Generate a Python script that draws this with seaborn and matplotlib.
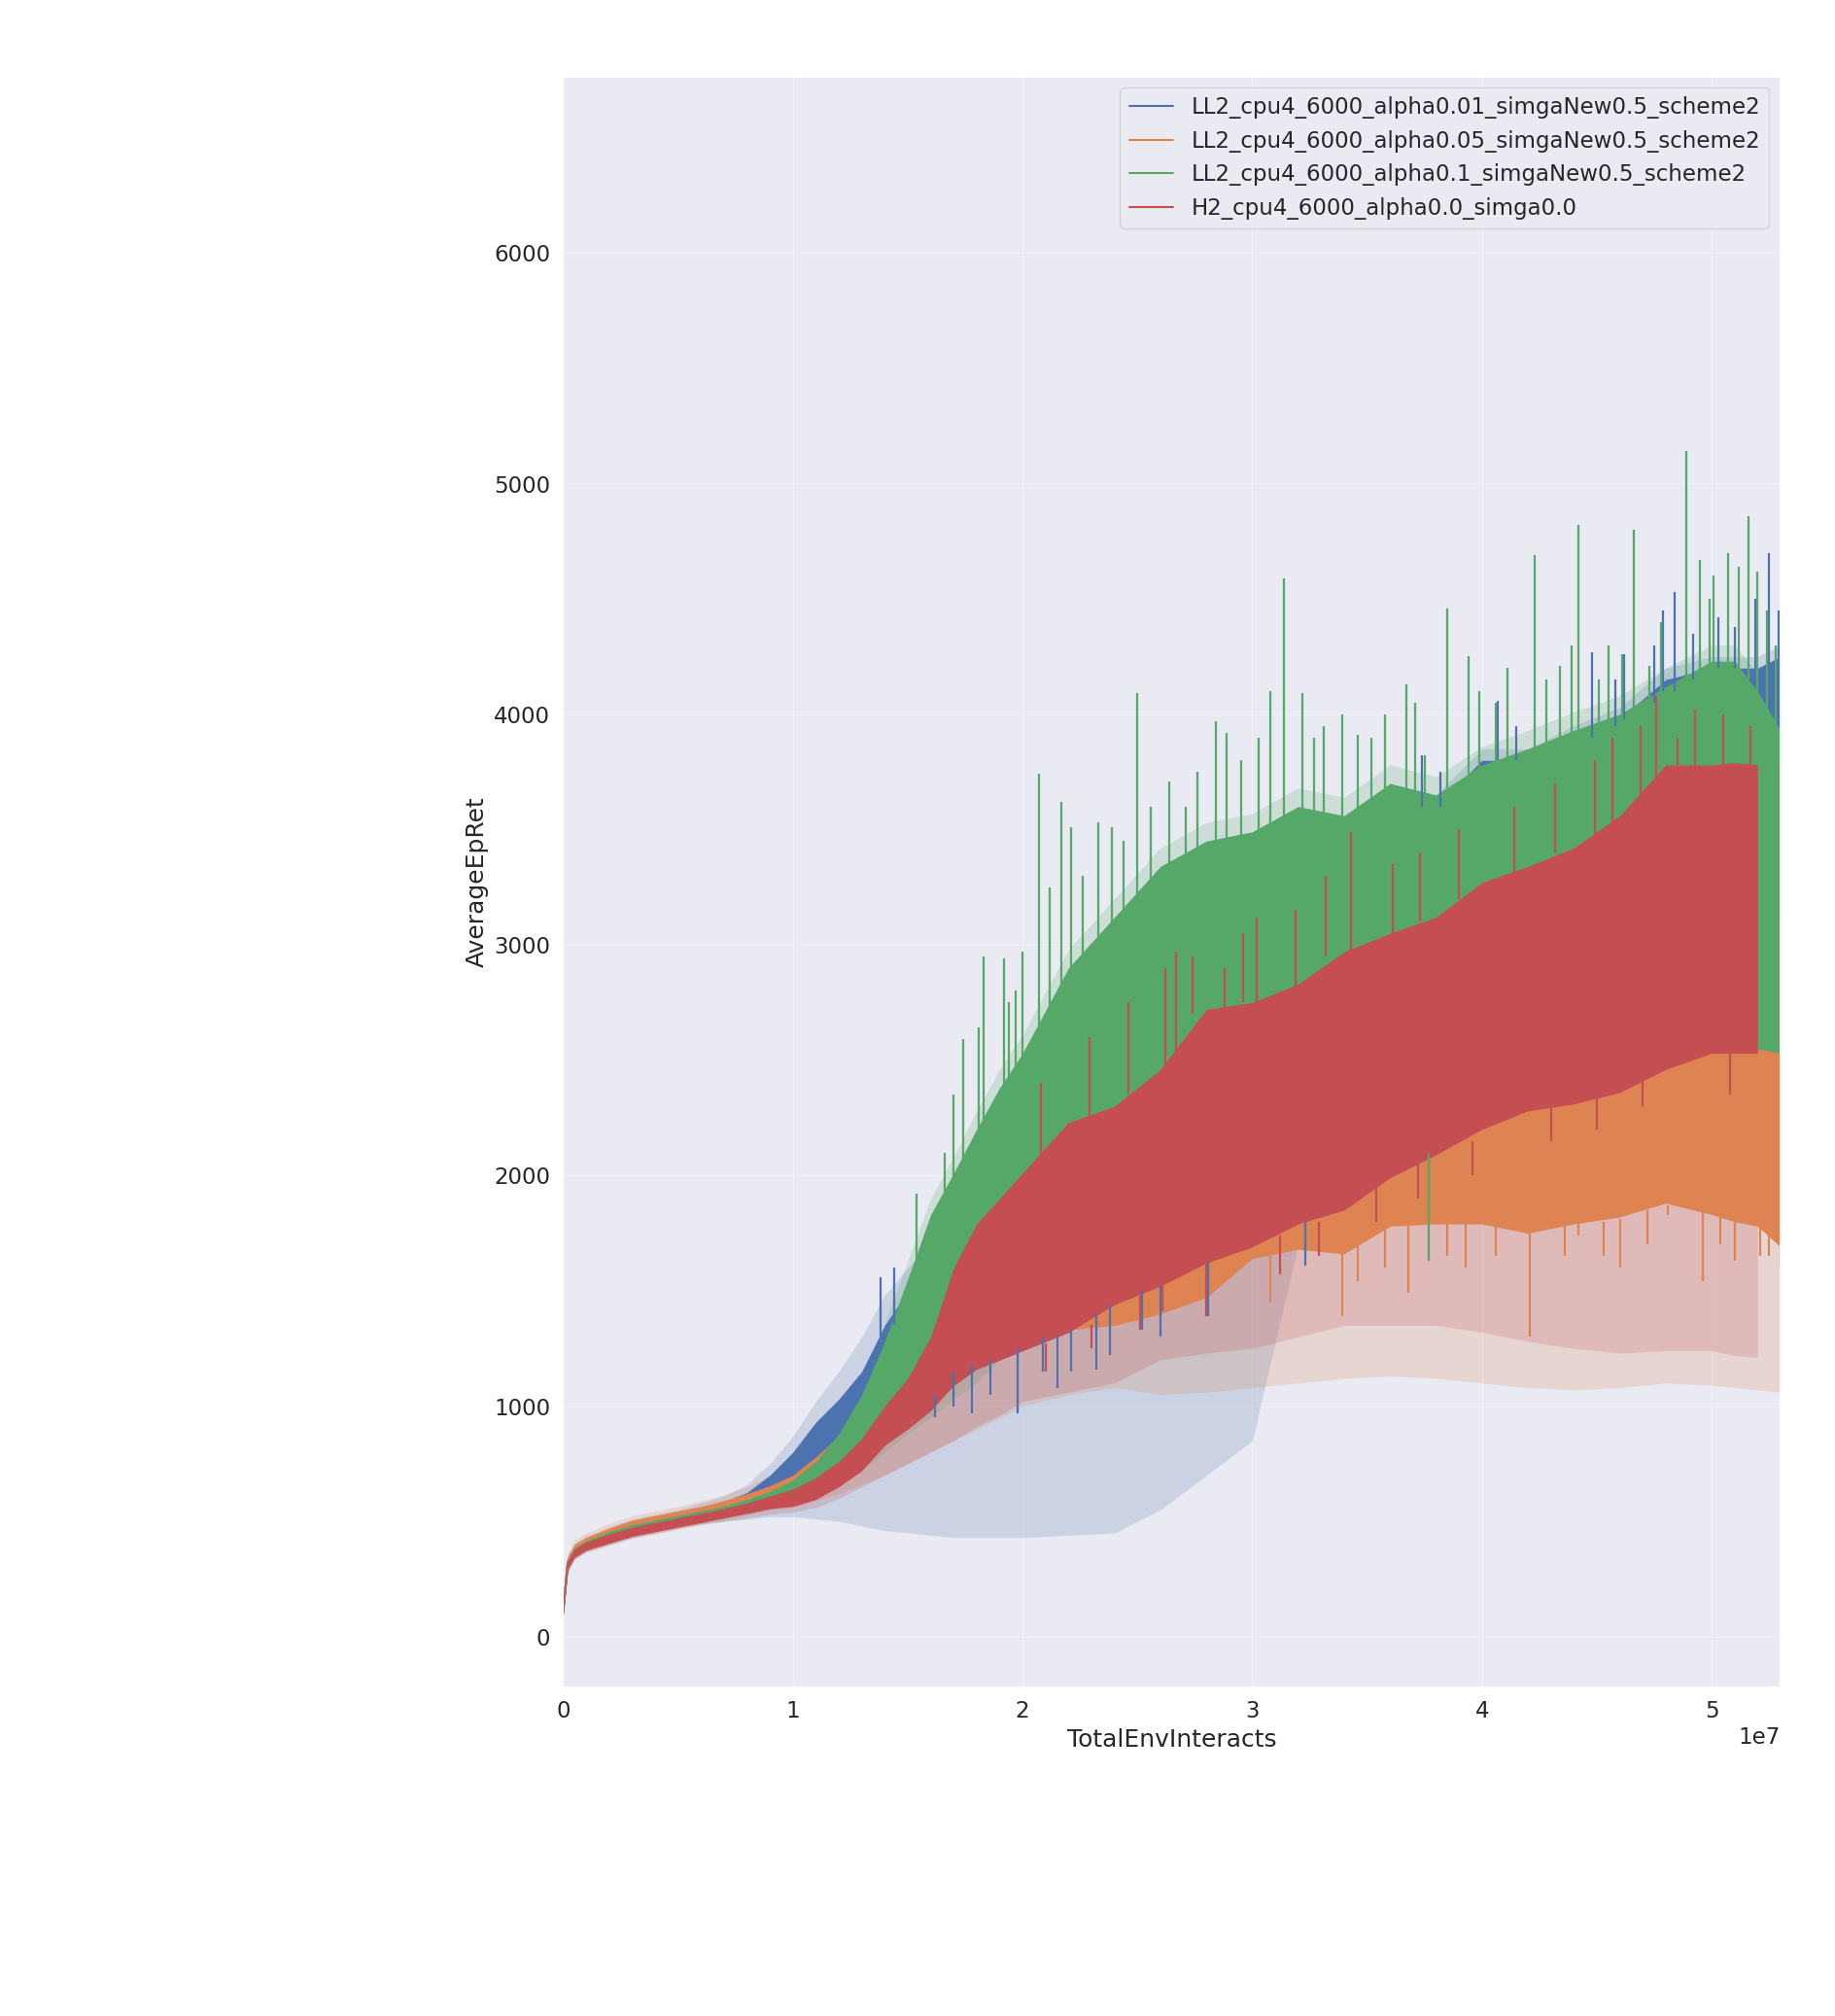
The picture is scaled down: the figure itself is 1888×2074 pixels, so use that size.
import numpy as np
import pandas as pd
import matplotlib
matplotlib.use('Agg')
import matplotlib.pyplot as plt
import seaborn as sns

nan = np.nan

names = ['LL2_cpu4_6000_alpha0.01_simgaNew0.5_scheme2',
         'LL2_cpu4_6000_alpha0.05_simgaNew0.5_scheme2',
         'LL2_cpu4_6000_alpha0.1_simgaNew0.5_scheme2',
         'H2_cpu4_6000_alpha0.0_simga0.0']
colors = ['#4C72B0', '#DD8452', '#55A868', '#C44E52']

# env interacts, in millions
steps_m = [0, 0.2, 0.5, 1, 2, 3, 4, 5, 6, 7, 8, 9, 10, 11, 12, 13, 14, 15, 16, 17, 18, 19, 20,
           22, 24, 26, 28, 30, 32, 34, 36, 38, 40, 42, 44, 46, 48, 50, 51, 52, 53]

# dense part of each noisy curve: lower / upper edge
blue_lo = [100, 310, 365, 395, 430, 460, 480, 500, 520, 545, 570, 600, 640, 700, 780, 860, 940, 990, 1000, 1090, 1160, 1200, 1240,
           1320, 1440, 1520, 1620, 1700, 1800, 1950, 2100, 2250, 2450, 2600, 2750, 2850, 2950, 3000, 3050, 3050, 3100]
blue_hi = [115, 335, 390, 420, 460, 495, 515, 535, 560, 585, 625, 700, 800, 930, 1030, 1150, 1350, 1500, 1650, 1800, 1950, 2050, 2150,
           2350, 2550, 2700, 2850, 3000, 3150, 3300, 3450, 3600, 3800, 3800, 3900, 3980, 4150, 4200, 4200, 4200, 4250]
orange_lo = [100, 310, 365, 395, 430, 460, 480, 500, 520, 540, 565, 590, 620, 660, 720, 790, 870, 950, 1050, 1150, 1230, 1280, 1320,
             1330, 1350, 1400, 1470, 1640, 1680, 1660, 1780, 1790, 1790, 1750, 1790, 1820, 1880, 1830, 1800, 1780, 1690]
orange_hi = [115, 345, 400, 430, 470, 505, 525, 545, 565, 590, 620, 655, 700, 780, 870, 960, 1060, 1180, 1320, 1450, 1560, 1650, 1720,
             1850, 1950, 2050, 2150, 2250, 2300, 2350, 2420, 2450, 2480, 2500, 2520, 2560, 2640, 2700, 2700, 2680, 2600]
green_lo = [100, 305, 360, 390, 420, 450, 470, 490, 510, 530, 555, 580, 615, 660, 730, 830, 950, 1080, 1250, 1400, 1550, 1650, 1750,
            1900, 2050, 2150, 2250, 2350, 2400, 2450, 2500, 2550, 2600, 2600, 2650, 2650, 2650, 2650, 2600, 2550, 2530]
green_hi = [112, 330, 385, 415, 455, 485, 505, 525, 545, 565, 595, 630, 680, 760, 880, 1050, 1280, 1550, 1830, 2010, 2200, 2380, 2530,
            2900, 3120, 3340, 3450, 3490, 3600, 3560, 3700, 3650, 3780, 3850, 3930, 4000, 4120, 4230, 4230, 4100, 3930]
red_lo = [100, 295, 345, 375, 405, 435, 455, 475, 495, 515, 535, 555, 565, 595, 650, 720, 830, 900, 980, 1090, 1160, 1200, 1240,
          1320, 1440, 1520, 1620, 1690, 1790, 1850, 1990, 2090, 2200, 2280, 2310, 2360, 2460, 2530, 2530, 2530, nan]
red_hi = [110, 330, 380, 410, 445, 475, 495, 515, 535, 555, 580, 610, 640, 690, 760, 860, 1000, 1120, 1300, 1600, 1790, 1900, 2010,
          2230, 2300, 2460, 2720, 2750, 2830, 2970, 3050, 3120, 3270, 3340, 3420, 3560, 3780, 3780, 3790, 3780, nan]

# faint +/- sd bands around the runs
blue_sd_lo = [90, 280, 340, 370, 410, 440, 460, 480, 490, 500, 510, 520, 520, 510, 500, 480, 460, 450, 440, 430, 430, 430, 430,
              440, 450, 550, 700, 850, 1700, 1750, 1850, 1900, 2000, 2100, 2200, 2300, 2400, 2450, 2500, 2500, 2550]
blue_sd_hi = [125, 350, 405, 435, 475, 510, 530, 550, 580, 610, 660, 750, 870, 1020, 1150, 1300, 1480, 1600, 1700, 1850, 2000, 2100, 2200,
              2400, 2600, 2750, 2900, 3050, 3200, 3350, 3500, 3650, 3850, 3850, 3950, 4030, 4200, 4250, 4250, 4250, 4300]
orange_sd_lo = [90, 285, 340, 370, 400, 430, 450, 470, 490, 510, 530, 550, 560, 590, 620, 660, 700, 750, 800, 850, 900, 950, 1000,
                1050, 1080, 1050, 1060, 1080, 1100, 1120, 1130, 1120, 1100, 1080, 1070, 1080, 1100, 1090, 1080, 1070, 1060]
orange_sd_hi = [125, 365, 420, 450, 490, 525, 545, 565, 590, 615, 650, 700, 760, 850, 950, 1080, 1200, 1350, 1500, 1650, 1800, 1900, 2000,
                2150, 2250, 2350, 2500, 2600, 2700, 2750, 2850, 2900, 2950, 3000, 3050, 3100, 3200, 3250, 3250, 3250, 3200]
green_sd_lo = [90, 285, 340, 370, 400, 430, 450, 470, 490, 510, 530, 550, 580, 610, 650, 720, 800, 880, 950, 1030, 1100, 1200, 1300,
               1500, 1650, 1750, 1850, 1950, 2050, 2100, 2150, 2200, 2250, 2300, 2350, 2400, 2400, 2400, 2400, 2400, 2400]
green_sd_hi = [120, 345, 400, 430, 470, 500, 520, 540, 560, 580, 615, 660, 720, 820, 960, 1130, 1360, 1630, 1900, 2080, 2280, 2460, 2610,
               2980, 3200, 3420, 3530, 3570, 3680, 3640, 3780, 3730, 3860, 3930, 4010, 4080, 4200, 4300, 4300, 4180, 4000]
red_sd_lo = [90, 280, 335, 365, 395, 425, 445, 465, 485, 500, 515, 530, 540, 560, 600, 650, 700, 750, 800, 850, 910, 960, 1020,
             1060, 1100, 1200, 1230, 1250, 1300, 1350, 1350, 1350, 1320, 1280, 1250, 1230, 1240, 1240, 1220, 1210, nan]
red_sd_hi = [120, 350, 400, 430, 460, 490, 510, 530, 550, 575, 600, 640, 680, 740, 820, 920, 1050, 1200, 1400, 1750, 1950, 2050, 2150,
             2350, 2450, 2600, 2850, 2900, 2950, 3100, 3200, 3250, 3400, 3450, 3550, 3700, 3900, 3900, 3900, 3900, nan]

# single epochs sticking out of the dense part: (x in millions, from, to)
green_spikes = [(15.4, 1500, 1920), (16.6, 1800, 2100), (17.0, 1950, 2350), (17.4, 2000, 2590), (18.1, 2150, 2640),
                (18.3, 2200, 2950), (19.2, 2300, 2940), (19.4, 2300, 2750), (19.7, 2400, 2800), (20.0, 2450, 2970),
                (20.7, 2500, 3740), (21.2, 2650, 3250), (21.7, 2700, 3620), (22.1, 2800, 3510), (22.6, 2850, 3300),
                (23.3, 2950, 3530), (23.9, 3000, 3510), (24.4, 3050, 3450), (25.0, 3000, 4090), (25.6, 3150, 3600),
                (26.4, 3200, 3710), (27.1, 3300, 3600), (27.6, 3350, 3750), (28.4, 3300, 3970), (28.9, 3300, 3920),
                (29.5, 3450, 3800), (30.3, 3450, 3900), (30.8, 3400, 4100), (31.4, 3450, 4590), (32.2, 3500, 4090),
                (32.7, 3550, 3900), (33.1, 3500, 3950), (33.9, 3500, 4000), (34.6, 3500, 3910), (35.2, 3550, 3900),
                (35.8, 3650, 4000), (36.7, 3600, 4130), (37.1, 3650, 4050), (37.5, 3600, 3820), (38.5, 3600, 4460),
                (39.4, 3700, 4250), (39.9, 3750, 4100), (40.6, 3750, 4050), (41.1, 3750, 4200), (42.3, 3800, 4690),
                (42.8, 3850, 4150), (43.4, 3850, 4210), (43.9, 3900, 4300), (44.2, 3850, 4820), (45.1, 3900, 4150),
                (45.5, 3900, 4300), (46.1, 3950, 4260), (46.6, 3950, 4800), (47.3, 4000, 4210), (47.8, 4050, 4400),
                (48.9, 4050, 5140), (49.5, 4100, 4670), (49.9, 4150, 4500), (50.1, 4150, 4600), (50.7, 4150, 4700),
                (51.2, 4150, 4640), (51.6, 4150, 4860), (52.0, 4050, 4620), (52.4, 4000, 4450), (52.8, 3900, 4300),
                (37.7, 2100, 1630)]
blue_spikes = [(13.8, 1300, 1560), (14.4, 1350, 1600), (37.4, 3600, 3820), (38.2, 3600, 3750), (40.7, 3800, 4060),
               (41.5, 3800, 3950), (44.8, 3900, 4270), (45.8, 3950, 4150), (46.2, 3980, 4260), (47.5, 4050, 4300),
               (47.9, 4100, 4450), (48.4, 4100, 4530), (49.2, 4150, 4350), (50.3, 4200, 4420), (51.0, 4200, 4380),
               (51.9, 4150, 4500), (52.5, 4200, 4700), (52.9, 4200, 4450),
               (16.2, 1050, 950), (17.0, 1150, 1000), (17.8, 1180, 970), (18.6, 1200, 1050), (19.8, 1250, 970),
               (20.9, 1300, 1150), (21.5, 1300, 1080), (22.1, 1330, 1150), (23.2, 1400, 1160), (23.8, 1440, 1220),
               (25.2, 1500, 1330), (26.0, 1520, 1300), (28.1, 1620, 1390), (32.3, 1800, 1610)]
orange_spikes = [(30.8, 1650, 1450), (33.9, 1700, 1390), (34.6, 1700, 1540), (35.8, 1780, 1600), (36.8, 1780, 1490),
                 (38.5, 1790, 1650), (39.3, 1790, 1600), (40.6, 1790, 1650), (42.1, 1760, 1300), (43.6, 1780, 1650),
                 (44.2, 1790, 1740), (45.3, 1800, 1650), (46.0, 1810, 1600), (47.2, 1850, 1700), (48.1, 1870, 1830),
                 (49.6, 1850, 1540), (50.4, 1830, 1700), (51.0, 1800, 1630), (52.1, 1780, 1650), (52.5, 1750, 1650),
                 (53.0, 1690, 1600)]
red_spikes = [(21.0, 1270, 1150), (23.0, 1350, 1250), (25.1, 1480, 1330), (26.1, 1520, 1410), (28.0, 1620, 1390),
              (31.2, 1740, 1570), (32.9, 1800, 1650), (35.4, 1950, 1800), (37.2, 2050, 1900), (39.6, 2150, 2000),
              (43.0, 2300, 2150), (45.0, 2340, 2200), (47.0, 2420, 2300), (50.8, 2530, 2350),
              (20.8, 2050, 2400), (22.9, 2250, 2600), (24.6, 2350, 2750), (26.2, 2450, 2900), (26.7, 2500, 2970),
              (27.4, 2700, 2950), (28.8, 2720, 2900), (29.6, 2750, 3050), (30.2, 2750, 3120), (31.9, 2820, 3150),
              (33.2, 2950, 3300), (34.3, 2960, 3490), (36.1, 3050, 3350), (37.3, 3100, 3400), (39.0, 3200, 3500),
              (41.4, 3300, 3600), (43.2, 3400, 3700), (44.9, 3480, 3800), (45.7, 3500, 3900), (46.9, 3650, 3950),
              (47.6, 3700, 4080), (48.5, 3780, 3900), (49.3, 3780, 4020), (50.5, 3780, 4000), (51.7, 3780, 3950)]


def long_table(pairs):
    rows = []
    for name, (lo, hi) in zip(names, pairs):
        for xm, a, b in zip(steps_m, lo, hi):
            if np.isnan(a):
                continue
            rows.append((xm * 1e6, a, name))
            rows.append((xm * 1e6, b, name))
    return pd.DataFrame(rows, columns=['TotalEnvInteracts', 'AverageEpRet', 'Condition'])


dense = long_table([(blue_lo, blue_hi), (orange_lo, orange_hi), (green_lo, green_hi), (red_lo, red_hi)])
spread = long_table([(blue_sd_lo, blue_sd_hi), (orange_sd_lo, orange_sd_hi),
                     (green_sd_lo, green_sd_hi), (red_sd_lo, red_sd_hi)])
palette = dict(zip(names, colors))

sns.set(style="darkgrid", font_scale=1.5, rc={'grid.color': '#F1F1F6', 'grid.linewidth': 0.8})
fig = plt.figure(figsize=(18.88, 20.74), dpi=100)
ax = fig.add_axes([0.3069, 0.1630, 0.6634, 0.7990])

# faint sd bands first
sns.lineplot(data=spread, x='TotalEnvInteracts', y='AverageEpRet', hue='Condition', hue_order=names,
             palette=palette, errorbar=('pi', 100), err_kws={'alpha': 0.2, 'linewidth': 0},
             linewidth=0, legend=False, ax=ax)
# dense curves on top
sns.lineplot(data=dense, x='TotalEnvInteracts', y='AverageEpRet', hue='Condition', hue_order=names,
             palette=palette, errorbar=('pi', 100), err_kws={'alpha': 1.0, 'linewidth': 0},
             linewidth=1.5, ax=ax)
for line in ax.lines:
    line.set_zorder(0.5)

for spikes, c in zip([blue_spikes, orange_spikes, green_spikes, red_spikes], colors):
    xs = [s[0] * 1e6 for s in spikes]
    ax.vlines(xs, [s[1] for s in spikes], [s[2] for s in spikes], colors=c, linewidth=1.6)

leg = ax.get_legend()
handles = leg.legend_handles
labels = [t.get_text() for t in leg.get_texts()]
ax.legend(handles, labels, loc='upper right')

ax.set_xlim(0, 5.3e7)
ax.set_ylim(-220, 6765)
ax.ticklabel_format(style='sci', axis='x', scilimits=(0, 0))
ax.set_xlabel('TotalEnvInteracts')
ax.set_ylabel('AverageEpRet')

fig.savefig('out.png', dpi=100)
